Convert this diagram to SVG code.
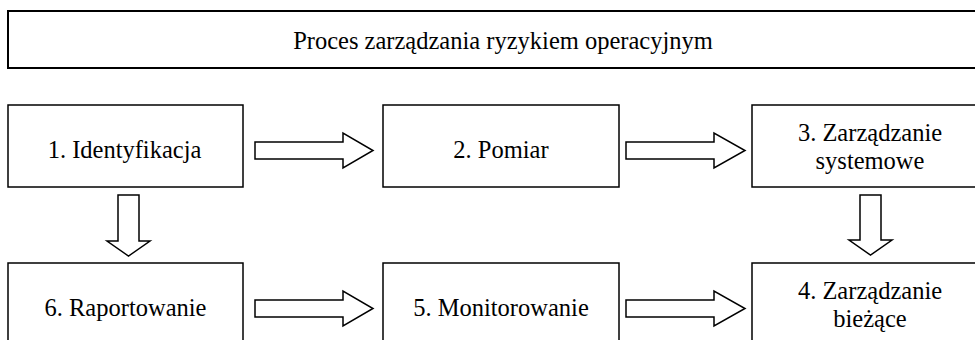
<svg xmlns="http://www.w3.org/2000/svg" width="975" height="340" viewBox="0 0 975 340">
<style>
.box{fill:#fff;stroke:#000;stroke-width:1.5}
.title{fill:#fff;stroke:#000;stroke-width:2}
.arr{fill:#fff;stroke:#000;stroke-width:1.5;stroke-linejoin:miter}
.t{font-size:24.5px;fill:#000;text-anchor:middle}
</style>
<rect width="975" height="340" fill="#fff"/>
<g font-family="Liberation Serif">
<g id="title">
<rect class="title" x="8" y="11" width="985" height="57"/>
<text class="t" font-family="Liberation Serif" x="503" y="49">Proces zarządzania ryzykiem operacyjnym</text>
</g>
<g id="n1">
<rect class="box" x="8" y="105" width="235" height="82"/>
<text class="t" font-family="Liberation Serif" x="124.5" y="158">1. Identyfikacja</text>
</g>
<g id="n2">
<rect class="box" x="383" y="105" width="236" height="82"/>
<text class="t" font-family="Liberation Serif" x="501" y="158">2. Pomiar</text>
</g>
<g id="n3">
<rect class="box" x="752" y="105" width="236" height="82"/>
<text class="t" font-family="Liberation Serif" x="870" y="141">3. Zarządzanie</text>
<text class="t" font-family="Liberation Serif" x="870" y="169">systemowe</text>
</g>
<g id="n6">
<rect class="box" x="8" y="263" width="235" height="82"/>
<text class="t" font-family="Liberation Serif" x="125.5" y="316">6. Raportowanie</text>
</g>
<g id="n5">
<rect class="box" x="383" y="263" width="236" height="82"/>
<text class="t" font-family="Liberation Serif" x="501" y="316">5. Monitorowanie</text>
</g>
<g id="n4">
<rect class="box" x="752" y="263" width="236" height="82"/>
<text class="t" font-family="Liberation Serif" x="870" y="299">4. Zarządzanie</text>
<text class="t" font-family="Liberation Serif" x="870" y="327">bieżące</text>
</g>
</g>
<g id="connectors">
<polygon class="arr" points="255,142 343,142 343,133 373,150.5 343,168 343,159 255,159"/>
<polygon class="arr" points="626,142 714,142 714,133 745,150.5 714,168 714,159 626,159"/>
<polygon class="arr" points="255,300 343,300 343,291 373,308.5 343,326 343,317 255,317"/>
<polygon class="arr" points="626,300 714,300 714,291 745,308.5 714,326 714,317 626,317"/>
<polygon class="arr" points="118,195 139,195 139,241 150,241 128.5,256 107,241 118,241"/>
<polygon class="arr" points="860,195 881,195 881,240 892,240 870.5,255 849,240 860,240"/>
</g>
</svg>
